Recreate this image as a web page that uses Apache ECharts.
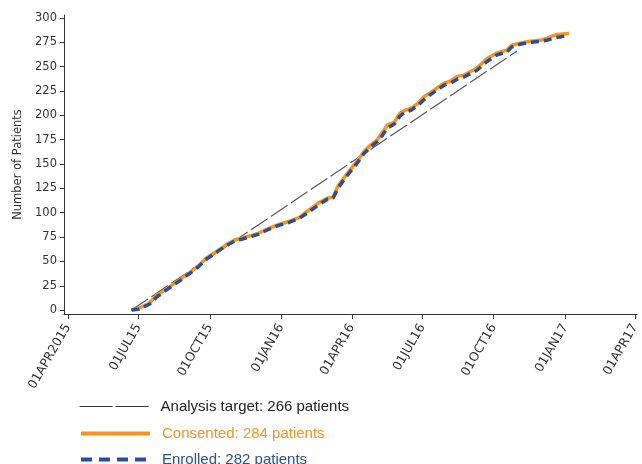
<!DOCTYPE html>
<html>
<head>
<meta charset="utf-8">
<script src="https://cdn.jsdelivr.net/npm/echarts@6/dist/echarts.min.js"></script>
<style>html,body{margin:0;padding:0;background:#fff}#c{width:642px;height:464px}</style>
</head>
<body>
<div id="c"></div>
<script>
// ---- data ----
var dates = ["2015-06-22","2015-07-02","2015-07-15","2015-07-24","2015-08-03","2015-08-14","2015-08-23","2015-09-04","2015-09-17","2015-09-26",
  "2015-10-09","2015-10-22","2015-11-02","2015-11-12","2015-11-25","2015-12-03","2015-12-16","2015-12-29","2016-01-11","2016-01-24",
  "2016-02-06","2016-02-18","2016-03-01","2016-03-08","2016-03-14","2016-03-23","2016-04-01","2016-04-09","2016-04-17","2016-04-26",
  "2016-05-04","2016-05-11","2016-05-17","2016-05-26","2016-06-02","2016-06-08","2016-06-16","2016-06-25","2016-07-03","2016-07-11",
  "2016-07-20","2016-07-29","2016-08-06","2016-08-15","2016-08-23","2016-09-01","2016-09-09","2016-09-22","2016-10-05","2016-10-18",
  "2016-10-24","2016-11-04","2016-11-17","2016-11-30","2016-12-08","2016-12-21","2017-01-06"];
var consented = [0,2,7,15,20,26,31,38,46,53,
  60,67,72,74,77,79,84,88,91,95,
  103,110,115,116,127,137,146,154,163,170,
  175,183,190,193,202,205,207,212,219,223,
  228,233,235,240,241,245,248,258,264,267,
  272,274,276,277,279,283,284];
var enrolled = [0,1,6,13,19,25,30,37,45,52,
  59,66,71,73,76,78,83,87,90,94,
  101,108,114,115,125,135,144,152,161,168,
  173,180,187,191,199,203,205,210,216,221,
  226,231,233,237,239,243,246,255,262,265,
  270,273,275,276,277,280,282];
var targetDates = ["2015-06-22","2016-10-31"];
var targetValues = [0,266];
var tickDates = ["2015-04-01","2015-07-01","2015-10-01","2016-01-01","2016-04-01","2016-07-01","2016-10-01","2017-01-01","2017-04-01"];
var tickLabels = ["01APR2015","01JUL15","01OCT15","01JAN16","01APR16","01JUL16","01OCT16","01JAN17","01APR17"];
var yTicks = [0,25,50,75,100,125,150,175,200,225,250,275,300];
var seriesNames = ["Analysis target: 266 patients","Consented: 284 patients","Enrolled: 282 patients"];

// ---- helpers ----
function toTs(s){var p=s.split('-');return Date.UTC(+p[0],+p[1]-1,+p[2]);}
function pairs(ds,vs){return ds.map(function(d,i){return [toTs(d),vs[i]];});}
var tickTs = tickDates.map(toTs);

var chart = echarts.init(document.getElementById('c'), null, {renderer:'canvas'});
var axisFont = 'DejaVu Sans';
var orange = '#F7931E', blue = '#2A4E9E', gray = '#555555';
function legendFor(i, top, textColor, lineStyle){
  return {
    orient:'vertical',left:74,top:top,itemWidth:69,itemHeight:14,
    itemStyle:{opacity:0},
    textStyle:{fontFamily:'Liberation Sans',fontSize:15,color:textColor,padding:[0,0,0,7]},
    data:[{name:seriesNames[i],lineStyle:lineStyle}]
  };
}
chart.setOption({
  animation:false,
  backgroundColor:'#ffffff',
  grid:{left:64,right:1,top:15,bottom:150,containLabel:false},
  xAxis:{
    type:'value',
    min:toTs('2015-03-27'), max:toTs('2017-04-04'),
    axisLine:{show:true,onZero:false,lineStyle:{color:'#333',width:1}},
    axisTick:{show:true,length:5,customValues:tickTs,lineStyle:{color:'#333'}},
    axisLabel:{customValues:tickTs,rotate:60,margin:11,color:'#333',fontFamily:axisFont,fontSize:12.5,
      formatter:function(v){var i=tickTs.indexOf(v);return i>=0?tickLabels[i]:'';}},
    splitLine:{show:false},minorTick:{show:false}
  },
  yAxis:{
    type:'value',min:-4,max:303,
    name:'Number of Patients',nameLocation:'middle',nameGap:40,nameRotate:90,
    nameTextStyle:{fontFamily:axisFont,fontSize:11.5,color:'#333'},
    axisLine:{show:true,lineStyle:{color:'#333',width:1}},
    axisTick:{show:true,length:4,customValues:yTicks,lineStyle:{color:'#333'}},
    axisLabel:{customValues:yTicks,margin:7,color:'#333',fontFamily:axisFont,fontSize:11.5},
    splitLine:{show:false}
  },
  legend:[
    legendFor(0,394,'#222',{type:[33,3],width:1.2,color:'#333'}),
    legendFor(1,421,orange,{width:4}),
    legendFor(2,447,blue,{type:[11,7],width:4})
  ],
  series:[
    {name:seriesNames[0],type:'line',symbol:'none',data:pairs(targetDates,targetValues),
      lineStyle:{color:gray,width:1.2,type:[20,4]},itemStyle:{color:gray},z:2},
    {name:seriesNames[1],type:'line',symbol:'none',data:pairs(dates,consented),
      lineStyle:{color:orange,width:3.5},itemStyle:{color:orange},z:3},
    {name:seriesNames[2],type:'line',symbol:'none',data:pairs(dates,enrolled),
      lineStyle:{color:blue,width:3.5,type:[8,5]},itemStyle:{color:blue},z:4}
  ]
});
</script>
</body>
</html>
